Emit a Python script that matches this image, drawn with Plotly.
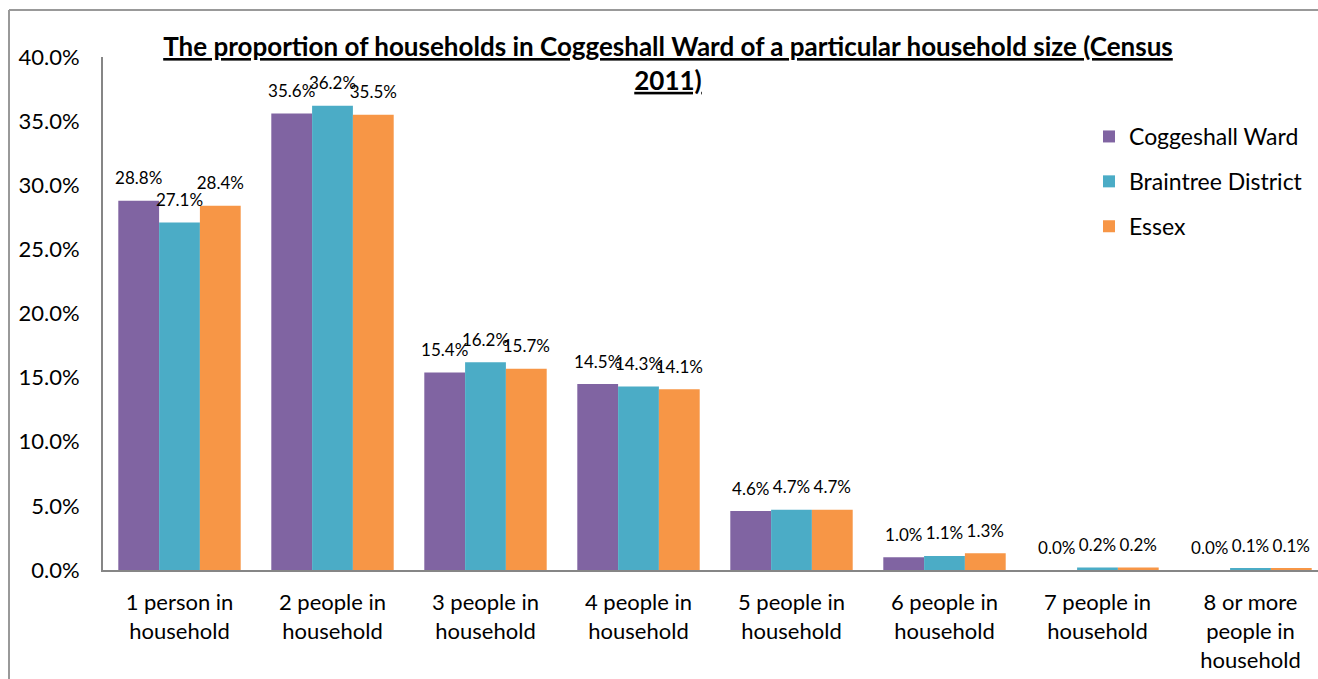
import plotly.graph_objects as go

categories = ["1 person in<br>household", "2 people in<br>household", "3 people in<br>household",
              "4 people in<br>household", "5 people in<br>household", "6 people in<br>household",
              "7 people in<br>household", "8 or more<br>people in<br>household"]
series_names = ["Coggeshall Ward", "Braintree District", "Essex"]
coggeshall = [28.8, 35.6, 15.4, 14.5, 4.6, 1.0, 0.0, 0.0]
braintree = [27.1, 36.2, 16.2, 14.3, 4.7, 1.1, 0.2, 0.1]
essex = [28.4, 35.5, 15.7, 14.1, 4.7, 1.3, 0.2, 0.1]
colors = ["#8064A2", "#4BACC6", "#F79646"]
y_ticks = [0, 0.05, 0.10, 0.15, 0.20, 0.25, 0.30, 0.35, 0.40]

FONT = "Lato"
BARGAP = 0.2
n_series = 3
bar_w = (1 - BARGAP) / n_series
xs = list(range(len(categories)))

fig = go.Figure()
all_vals = [coggeshall, braintree, essex]
for name, vals, col in zip(series_names, all_vals, colors):
    fig.add_trace(go.Bar(
        x=xs, y=[v / 100 for v in vals], name=name,
        marker=dict(color=col, line=dict(width=0)),
        legendgroup=name,
    ))
# data labels, positioned over each bar of the group
for j, (name, vals) in enumerate(zip(series_names, all_vals)):
    off = (j - (n_series - 1) / 2) * bar_w
    fig.add_trace(go.Scatter(
        x=[x + off for x in xs], y=[v / 100 for v in vals], mode="markers+text",
        text=[f"{v:.1f}%" for v in vals], textposition="top center",
        marker=dict(size=18, opacity=0), cliponaxis=False,
        textfont=dict(family=FONT, size=17, color="#000000"),
        showlegend=False, hoverinfo="skip",
    ))

W, H = 1318, 679
L, R, T = 103, 0, 57
ph = 513
B = H - T - ph
pw = W - L - R
bx = (9 - L) / pw
by = 1 + (T - 10) / ph
fig.update_layout(
    width=W, height=H,
    margin=dict(l=L, r=R, t=T, b=B, autoexpand=False),
    paper_bgcolor="white", plot_bgcolor="white",
    barmode="group", bargap=BARGAP, bargroupgap=0,
    font=dict(family=FONT, color="#000000"),
    title=dict(text="<b><u>The proportion of households in Coggeshall Ward of a particular household size (Census</u></b><br><b><u>2011)</u></b>",
               x=668 / W, xanchor="center", y=1 - 56 / H, yanchor="top",
               font=dict(family=FONT, size=26, color="#000000")),
    legend=dict(x=(1089 - L) / pw, y=1 - 58 / ph, xanchor="left", yanchor="top",
                font=dict(family=FONT, size=23, color="#000000"), tracegroupgap=12,
                bgcolor="rgba(0,0,0,0)", itemwidth=30),
    xaxis=dict(range=[-0.5, 7.5 - 9 / 153], tickmode="array", tickvals=xs,
               ticktext=categories, showline=True, linecolor="#868686", linewidth=2,
               ticks="", showgrid=False, zeroline=False, automargin=False,
               ticklabelstandoff=12,
               tickfont=dict(family=FONT, size=22, color="#000000")),
    yaxis=dict(range=[0, 0.40], tickmode="array", tickvals=y_ticks, tickformat=".1%",
               showline=True, linecolor="#868686", linewidth=2, ticks="", showgrid=False,
               zeroline=False, ticklabelstandoff=17, automargin=False,
               tickfont=dict(family=FONT, size=22, color="#000000")),
    shapes=[
        dict(type="line", xref="paper", yref="paper", x0=bx, x1=1.05, y0=by, y1=by,
             line=dict(color="#999999", width=2), layer="below"),
        dict(type="line", xref="paper", yref="paper", x0=bx, x1=bx, y0=by, y1=-0.3,
             line=dict(color="#999999", width=2), layer="below"),
    ],
)
fig.write_html(
    "out.html",
    config={"displayModeBar": False},
    post_script="document.body.style.margin='0';document.body.style.overflow='hidden';"
                "document.documentElement.style.overflow='hidden';",
)
